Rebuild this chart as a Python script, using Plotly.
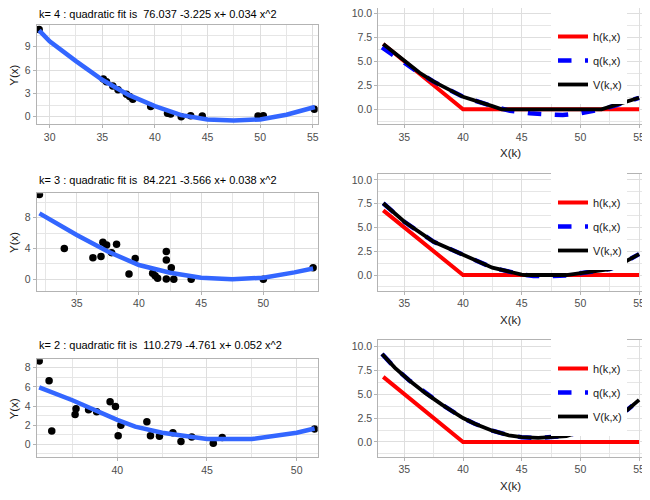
import plotly.graph_objects as go

# ---- data ----
# left column: simulated points and quadratic fit, one set per k
k4_x = [29.0, 35.1, 35.4, 36.0, 36.5, 37.3, 37.6, 37.9, 39.6, 41.2, 41.5, 42.5, 43.4, 44.5, 49.8, 50.3, 55.15]
k4_y = [11.2, 4.85, 4.5, 3.95, 3.45, 2.9, 2.6, 2.25, 1.3, 0.45, 0.35, 0.0, 0.13, 0.1, 0.1, 0.13, 0.97]
k4_fit_x = [29.0, 30.0, 32.5, 35.0, 37.5, 40.0, 42.5, 45.0, 47.5, 50.0, 52.5, 55.2]
k4_fit_y = [11.1, 9.7, 7.15, 4.75, 2.8, 1.35, 0.2, -0.35, -0.5, -0.35, 0.25, 1.25]

k3_x = [32.0, 34.0, 36.3, 36.95, 37.1, 37.4, 37.8, 38.2, 39.2, 39.7, 41.1, 41.3, 41.5,
        42.2, 42.2, 42.2, 42.6, 42.8, 44.2, 50.0, 54.0]
k3_y = [11.0, 4.0, 2.8, 2.95, 4.8, 4.45, 3.45, 4.55, 0.7, 2.7, 0.8, 0.45, 0.15,
        3.6, 2.5, 0.05, 1.5, 0.0, 0.0, 0.0, 1.5]
k3_fit_x = [32.0, 35.0, 37.5, 40.0, 42.5, 45.0, 47.5, 50.0, 52.5, 54.0]
k3_fit_y = [8.55, 5.75, 3.6, 1.85, 0.85, 0.2, 0.0, 0.2, 0.9, 1.4]

k2_x = [35.65, 36.2, 36.35, 37.65, 37.7, 38.4, 38.85, 39.6, 39.9, 40.05, 40.2, 41.65,
        41.85, 42.35, 43.1, 43.55, 44.15, 45.35, 45.85, 51.0]
k2_y = [8.7, 6.65, 1.4, 3.1, 3.7, 3.6, 3.4, 4.45, 3.95, 0.9, 2.0, 2.35,
        0.9, 0.85, 1.2, 0.3, 0.75, 0.1, 0.7, 1.6]
k2_fit_x = [35.65, 37.5, 40.0, 41.0, 42.5, 45.0, 47.5, 50.0, 51.0]
k2_fit_y = [5.95, 4.6, 2.55, 1.85, 1.2, 0.55, 0.55, 1.2, 1.65]

titles = ["k= 4 : quadratic fit is  76.037 -3.225 x+ 0.034 x^2",
          "k= 3 : quadratic fit is  84.221 -3.566 x+ 0.038 x^2",
          "k= 2 : quadratic fit is  110.279 -4.761 x+ 0.052 x^2"]

# right column: payoff h, continuation q and value V
h_x = [33.2, 40.0, 55.0]
h_y = [6.8, 0.0, 0.0]

q1_x = [33.1, 34.0, 35.0, 36.0, 37.5, 40.0, 42.5, 44.0, 45.7, 47.5, 48.5, 50.0, 51.4, 52.0, 53.1, 55.0]
q1_y = [6.45, 5.65, 4.85, 4.0, 2.88, 1.3, 0.33, -0.15, -0.42, -0.56, -0.6, -0.42, -0.1, 0.05, 0.45, 1.2]
v1_x = [33.2, 35.0, 36.3, 37.5, 40.0, 42.5, 43.3, 51.8, 53.1, 55.0]
v1_y = [6.8, 5.0, 3.8, 2.88, 1.3, 0.33, 0.0, 0.0, 0.45, 1.2]

q2_x = [33.2, 35.0, 37.5, 40.0, 42.5, 45.0, 46.0, 47.5, 49.0, 50.0, 52.5, 53.0, 54.0, 55.0]
q2_y = [7.55, 5.6, 3.5, 2.1, 0.77, 0.05, -0.1, -0.12, -0.05, 0.18, 0.62, 0.85, 1.5, 2.2]
v2_x = [33.2, 35.0, 37.5, 40.0, 42.5, 45.0, 45.3, 48.8, 50.0, 52.5, 53.0, 54.0, 55.0]
v2_y = [7.55, 5.6, 3.5, 2.1, 0.77, 0.05, 0.0, 0.0, 0.18, 0.62, 0.85, 1.5, 2.2]

q3_x = [33.1, 34.2, 35.4, 36.8, 38.2, 40.0, 41.0, 42.5, 43.9, 45.0, 46.4, 47.5, 48.8, 49.5, 50.0, 52.0, 54.0, 55.0]
q3_y = [9.2, 7.75, 6.45, 5.1, 3.9, 2.5, 1.9, 1.18, 0.7, 0.5, 0.42, 0.52, 0.6, 0.9, 1.15, 2.0, 3.35, 4.4]
v3_x = [33.1, 34.2, 35.4, 36.8, 38.2, 40.0, 41.0, 42.5, 43.9, 45.0, 46.4, 47.5, 48.8, 49.5, 50.0, 52.0, 54.0, 55.0]
v3_y = [9.2, 7.75, 6.45, 5.1, 3.9, 2.5, 1.9, 1.18, 0.7, 0.5, 0.42, 0.52, 0.6, 0.9, 1.15, 2.0, 3.35, 4.4]

# the page body has an 8px margin, so the figure is shrunk to fit what is left
PAD = 8
W, H = 650 - PAD, 500 - PAD
FONT = "Liberation Sans, Arial, sans-serif"


def fx(p):
    return (p - PAD) / W


def fy(p):
    return 1 - (p - PAD) / H


# panel boxes in page pixels: (left, right, top, bottom)
left_boxes = [(36.7, 317.7, 25.0, 124.3), (36.7, 317.7, 193.3, 290.7), (36.7, 317.7, 359.3, 457.3)]
right_boxes = [(378.3, 643.3, 8.0, 124.3), (378.3, 643.3, 174.0, 290.7), (378.3, 643.3, 340.0, 456.7)]
left_xr = [[28.77, 55.47], [31.78, 54.37], [35.51, 51.17]]
left_yr = [[-0.98, 11.79], [-1.48, 11.16], [-1.36, 8.88]]
right_yr = [[-1.56, 10.55], [-1.65, 10.63], [-1.54, 10.66]]
left_dy = [3, 4, 2]
title_y = [14, 180, 345]
xlab_y = [153, 320, 486]

left_sets = [(k4_x, k4_y, k4_fit_x, k4_fit_y), (k3_x, k3_y, k3_fit_x, k3_fit_y),
             (k2_x, k2_y, k2_fit_x, k2_fit_y)]
right_sets = [(q1_x, q1_y, v1_x, v1_y), (q2_x, q2_y, v2_x, v2_y), (q3_x, q3_y, v3_x, v3_y)]

fig = go.Figure()
layout = dict(width=W, height=H, margin=dict(l=0, r=0, t=0, b=0),
              plot_bgcolor="white", paper_bgcolor="white",
              font=dict(family=FONT, size=11, color="black"))

axis_style = dict(showline=True, mirror=True, linecolor="#B3B3B3", linewidth=1,
                  showgrid=True, gridcolor="#DEDEDE", gridwidth=1, zeroline=False,
                  ticks="outside", ticklen=3, tickcolor="#B3B3B3", tickwidth=1,
                  tickfont=dict(size=10.5, color="#4D4D4D", family=FONT),
                  ticklabeloverflow="allow", automargin=False, layer="above traces")

annotations = []
shapes = []

for i in range(3):
    xa_l, xa_r = 2 * i + 1, 2 * i + 2
    px_, py_, fx_, fy_ = left_sets[i]
    l, r, t, b = left_boxes[i]
    sx = "" if xa_l == 1 else str(xa_l)

    fig.add_trace(go.Scatter(x=px_, y=py_, mode="markers", xaxis="x" + sx, yaxis="y" + sx,
                             marker=dict(color="black", size=7.5), showlegend=False))
    fig.add_trace(go.Scatter(x=fx_, y=fy_, mode="lines", xaxis="x" + sx, yaxis="y" + sx,
                             line=dict(color="#3366FF", width=4.5), showlegend=False))

    layout["xaxis" + sx] = dict(axis_style, domain=[fx(l), fx(r)], range=left_xr[i],
                                anchor="y" + sx, dtick=5, tick0=0,
                                minor=dict(dtick=2.5, tick0=0, showgrid=True,
                                           gridcolor="#E6E6E6", gridwidth=0.5))
    layout["yaxis" + sx] = dict(axis_style, domain=[fy(b), fy(t)], range=left_yr[i],
                                anchor="x" + sx, dtick=left_dy[i], tick0=0,
                                minor=dict(dtick=left_dy[i] / 2, tick0=0, showgrid=True,
                                           gridcolor="#E6E6E6", gridwidth=0.5))
    annotations.append(dict(text=titles[i], xref="paper", yref="paper", x=fx(l), y=fy(title_y[i]),
                            xanchor="left", yanchor="middle", showarrow=False,
                            font=dict(size=11, color="black")))
    annotations.append(dict(text="Y(x)", xref="paper", yref="paper", x=fx(14), y=fy((t + b) / 2),
                            textangle=-90, xanchor="center", yanchor="middle", showarrow=False,
                            font=dict(size=11.5, color="#1A1A1A")))

    # right panel
    sx = str(xa_r)
    qx, qy, vx, vy = right_sets[i]
    l, r, t, b = right_boxes[i]
    leg = "legend" if i == 0 else "legend" + str(i + 1)
    fig.add_trace(go.Scatter(x=h_x, y=h_y, mode="lines", name="h(k,x)", xaxis="x" + sx, yaxis="y" + sx,
                             line=dict(color="#FF0000", width=4), legend=leg, legendgroup="h" + sx))
    fig.add_trace(go.Scatter(x=qx, y=qy, mode="lines", name="q(k,x)", xaxis="x" + sx, yaxis="y" + sx,
                             line=dict(color="#0000FF", width=4.5, dash="dash"), legend=leg,
                             legendgroup="q" + sx))
    fig.add_trace(go.Scatter(x=vx, y=vy, mode="lines", name="V(k,x)", xaxis="x" + sx, yaxis="y" + sx,
                             line=dict(color="black", width=3.8), legend=leg, legendgroup="v" + sx))

    layout["xaxis" + sx] = dict(axis_style, domain=[fx(l), fx(r)], range=[32.78, 55.36],
                                anchor="y" + sx, dtick=5, tick0=0,
                                minor=dict(dtick=2.5, tick0=0, showgrid=True,
                                           gridcolor="#E6E6E6", gridwidth=0.5))
    layout["yaxis" + sx] = dict(axis_style, domain=[fy(b), fy(t)], range=right_yr[i],
                                anchor="x" + sx, dtick=2.5, tick0=0, tickformat=".1f",
                                minor=dict(dtick=1.25, tick0=0, showgrid=True,
                                           gridcolor="#E6E6E6", gridwidth=0.5))
    annotations.append(dict(text="X(k)", xref="paper", yref="paper", x=fx((l + r) / 2), y=fy(xlab_y[i]),
                            xanchor="center", yanchor="middle", showarrow=False,
                            font=dict(size=11.5, color="#1A1A1A")))
    # white legend background covering the plot, as in the reference
    shapes.append(dict(type="rect", xref="paper", yref="paper", x0=fx(551), x1=fx(627),
                       y0=fy(t + 96), y1=fy(t - 3), fillcolor="white", line=dict(width=0),
                       layer="above"))
    layout[leg] = dict(x=fx(553), y=fy(t + 14), xanchor="left", yanchor="top",
                       bgcolor="rgba(0,0,0,0)", font=dict(size=11, color="#1A1A1A"),
                       tracegroupgap=5, xref="paper", yref="paper")

layout["annotations"] = annotations
layout["shapes"] = shapes
fig.update_layout(**layout)

fig.write_html("out.html")
